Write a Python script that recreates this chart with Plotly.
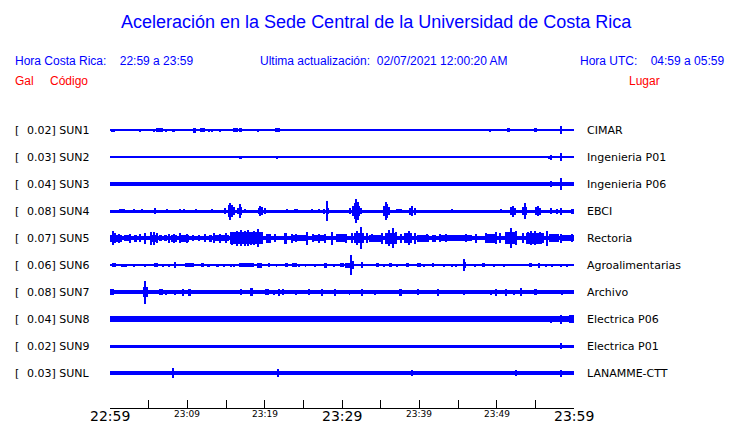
import plotly.graph_objects as go

# ---------------- data ----------------
title = "Aceleración en la Sede Central de la Universidad de Costa Rica"
codes = ["SUN1", "SUN2", "SUN3", "SUN4", "SUN5", "SUN6", "SUN7", "SUN8", "SUN9", "SUNL"]
gal = ["0.02", "0.03", "0.04", "0.08", "0.07", "0.06", "0.08", "0.04", "0.02", "0.03"]
places = ["CIMAR", "Ingenieria P01", "Ingenieria P06", "EBCI", "Rectoria",
          "Agroalimentarias", "Archivo", "Electrica P06", "Electrica P01", "LANAMME-CTT"]

# minutes after 22:59 for the time axis
tick_minutes = [0, 5, 10, 15, 20, 25, 30, 35, 40, 45, 50, 55, 60]
tick_labels = ["22:59", "", "23:09", "", "23:19", "", "23:29", "", "23:39", "", "23:49", "", "23:59"]
major_labels = ["22:59", "23:29", "23:59"]

# background noise half-amplitude of each trace (relative units)
noise = [0.5, 0.5, 1.7, 1.5, 2.2, 0.5, 1.8, 2.6, 1.5, 2.2]

# envelope events per station: (minute, half-amplitude, duration in minutes)
ev_sun1 = [(0.37, 1.5, 0.5), (3.94, 1.5, 0.13), (5.15, 1.3, 0.13), (5.67, 1.5, 0.26), (6.40, 1.7, 0.78),
           (7.18, 1.5, 0.26), (7.74, 1.3, 0.13), (8.21, 1.5, 0.26), (8.81, 1.3, 0.13), (9.98, 1.2, 0.13),
           (10.93, 2.5, 0.39), (11.92, 1.8, 0.65), (12.78, 1.5, 0.26), (13.13, 1.5, 0.13), (14.16, 1.5, 0.26),
           (15.19, 1.2, 0.13), (16.18, 1.8, 0.65), (16.92, 1.8, 0.39), (18.08, 1.0, 0.13), (18.43, 1.0, 0.13),
           (19.12, 1.5, 0.26), (19.94, 1.2, 0.13), (21.66, 1.8, 0.52), (22.39, 1.3, 0.13), (22.69, 1.3, 0.13),
           (23.13, 1.3, 0.13), (24.29, 1.3, 0.13), (24.85, 1.0, 0.13), (25.37, 1.0, 0.13), (27.00, 1.3, 0.13),
           (28.60, 1.3, 0.13), (29.07, 1.3, 0.13), (31.75, 1.3, 0.13), (32.05, 1.3, 0.13), (32.48, 1.3, 0.13),
           (33.04, 1.3, 0.13), (33.56, 1.3, 0.13), (34.16, 1.3, 0.13), (35.97, 1.3, 0.13), (38.13, 1.3, 0.13),
           (38.99, 1.3, 0.13), (39.29, 1.3, 0.13), (40.15, 1.3, 0.13), (40.58, 1.3, 0.13), (42.31, 1.3, 0.13),
           (44.03, 1.3, 0.13), (44.25, 1.3, 0.13), (44.76, 1.3, 0.13), (45.02, 1.3, 0.13), (45.67, 1.3, 0.13),
           (49.20, 1.5, 0.26), (49.63, 1.2, 0.13), (50.28, 1.3, 0.13), (50.84, 1.2, 0.13), (51.53, 1.8, 0.26),
           (54.08, 1.2, 0.13), (55.07, 1.8, 0.39), (55.88, 1.3, 0.13), (57.05, 1.3, 0.13), (57.69, 1.3, 0.13),
           (58.30, 4.0, 0.13), (59.25, 1.3, 0.13), (59.85, 1.3, 0.13)]
ev_sun2 = [(0.93, 1.0, 0.13), (2.95, 1.0, 0.13), (3.43, 1.0, 0.13), (6.75, 1.0, 0.13), (7.39, 1.3, 0.26),
           (8.90, 1.0, 0.13), (16.88, 1.5, 0.3), (17.61, 1.0, 0.13), (19.38, 1.0, 0.13), (20.84, 1.0, 0.13),
           (21.62, 1.5, 0.3), (22.18, 1.0, 0.13), (24.29, 1.0, 0.13), (30.32, 1.3, 0.13), (30.54, 1.3, 0.13),
           (31.23, 1.0, 0.13), (36.75, 1.0, 0.13), (36.96, 1.0, 0.13), (38.56, 1.3, 0.13), (38.99, 1.0, 0.13),
           (42.39, 1.0, 0.13), (49.63, 1.0, 0.13), (50.41, 1.0, 0.13), (51.71, 1.0, 0.13), (52.44, 1.0, 0.13),
           (54.72, 1.0, 0.13), (55.88, 1.0, 0.13), (56.40, 1.3, 0.13), (56.75, 1.5, 0.2), (57.05, 2.5, 0.13),
           (57.69, 1.0, 0.13), (58.30, 4.3, 0.13), (58.90, 1.0, 0.13)]
ev_sun3 = [(57.05, 3.2, 0.13), (57.69, 2.0, 0.13), (58.30, 6.0, 0.13)]
ev_sun4 = [(1.53, 2.2, 0.78), (3.08, 2.0, 0.13), (4.16, 2.0, 0.13), (5.80, 3.3, 0.13), (7.39, 2.3, 0.13),
           (8.99, 2.2, 0.13), (9.63, 2.2, 0.13), (11.06, 2.2, 0.13), (13.21, 2.0, 0.13), (14.93, 3.0, 0.26),
           (15.37, 6.0, 0.2), (15.58, 8.5, 0.13), (15.80, 6.0, 0.2), (16.06, 4.0, 0.2), (16.57, 3.0, 0.2),
           (16.79, 7.0, 0.13), (17.00, 4.0, 0.2), (17.52, 2.0, 0.13), (19.25, 3.0, 0.2), (19.46, 5.3, 0.13),
           (19.68, 4.0, 0.2), (20.11, 3.0, 0.2), (22.91, 2.0, 0.13), (24.07, 2.3, 0.5), (26.14, 2.0, 0.13),
           (27.00, 2.0, 0.13), (27.65, 2.5, 0.2), (28.08, 3.0, 0.4), (28.08, 10.0, 0.13), (31.10, 3.0, 0.2),
           (31.40, 5.0, 0.2), (31.66, 8.0, 0.2), (31.83, 12.0, 0.13), (32.05, 9.0, 0.2), (32.26, 5.0, 0.2),
           (32.52, 3.0, 0.2), (35.41, 5.0, 0.2), (35.63, 8.8, 0.13), (35.84, 7.0, 0.2), (36.06, 4.0, 0.2),
           (37.35, 2.0, 0.8), (38.86, 3.5, 0.2), (39.08, 5.0, 0.13), (39.42, 3.5, 0.26), (44.25, 2.3, 0.13),
           (50.50, 2.0, 0.13), (51.92, 4.0, 0.2), (52.09, 5.5, 0.13), (52.35, 3.5, 0.2), (53.43, 4.0, 0.2),
           (53.65, 8.0, 0.13), (53.86, 4.0, 0.2), (55.15, 4.0, 0.2), (55.37, 5.0, 0.13), (55.58, 3.5, 0.2),
           (57.05, 3.0, 0.13), (57.82, 2.5, 0.13), (58.30, 3.5, 0.13), (59.76, 2.5, 0.4)]
ev_sun5 = [(0.75, 3.5, 1.6), (0.37, 7.0, 0.13), (0.63, 5.0, 0.13), (2.22, 3.0, 0.86), (3.30, 3.5, 0.43),
           (4.50, 5.5, 0.13), (5.50, 3.5, 0.78), (5.24, 6.5, 0.13), (5.67, 6.5, 0.13), (6.53, 3.0, 0.43),
           (7.18, 3.0, 0.43), (8.26, 3.5, 0.86), (8.26, 4.5, 0.13), (9.64, 3.5, 1.08), (10.71, 3.0, 0.2),
           (11.49, 2.7, 0.13), (13.00, 3.5, 0.43), (14.50, 3.0, 1.72), (17.61, 6.0, 4.1), (16.45, 7.5, 0.13),
           (17.52, 7.5, 0.13), (18.60, 7.0, 0.13), (19.16, 9.0, 0.13), (20.45, 4.5, 0.65), (22.69, 5.5, 0.3),
           (24.42, 3.0, 1.72), (25.45, 6.5, 0.13), (27.00, 3.0, 1.72), (27.00, 4.5, 0.13), (28.73, 6.5, 0.13),
           (29.81, 4.0, 1.3), (32.18, 5.0, 1.3), (31.93, 7.0, 0.13), (32.52, 11.0, 0.13), (34.33, 3.5, 1.72),
           (36.27, 5.5, 1.3), (36.14, 8.0, 0.13), (36.58, 10.0, 0.13), (38.56, 5.0, 1.08), (38.65, 7.3, 0.13),
           (40.46, 3.5, 1.5), (41.88, 3.5, 0.43), (44.68, 3.0, 4.3), (49.29, 4.5, 1.5), (49.85, 6.0, 0.13),
           (51.79, 6.0, 1.3), (51.79, 10.0, 0.13), (54.81, 5.5, 2.15), (54.38, 7.0, 0.13), (55.02, 7.0, 0.13),
           (56.53, 7.5, 0.13), (57.39, 4.0, 1.3), (59.16, 3.0, 1.8),
           (1.20, 4.5, 0.13), (2.60, 4.5, 0.13), (3.90, 4.0, 0.13), (6.10, 5.0, 0.13), (7.60, 4.5, 0.13),
           (9.10, 5.0, 0.13), (9.90, 4.5, 0.13), (12.30, 4.0, 0.13), (13.50, 5.0, 0.13), (14.20, 4.5, 0.13),
           (15.00, 5.0, 0.13), (15.80, 6.5, 0.13), (16.90, 8.0, 0.13), (17.90, 8.0, 0.13), (18.20, 6.5, 0.13),
           (19.60, 6.0, 0.13), (21.30, 4.0, 0.13), (23.50, 4.5, 0.13), (24.00, 4.0, 0.13), (26.30, 4.0, 0.13),
           (27.80, 4.5, 0.13), (30.50, 4.5, 0.13), (31.30, 5.0, 0.13), (33.20, 5.0, 0.13), (33.90, 4.0, 0.13),
           (35.20, 5.5, 0.13), (37.00, 6.0, 0.13), (37.60, 4.5, 0.13), (39.40, 5.5, 0.13), (41.00, 4.0, 0.13),
           (42.70, 4.0, 0.13), (43.40, 4.0, 0.13), (46.00, 4.0, 0.13), (47.30, 4.5, 0.13), (48.60, 5.0, 0.13),
           (50.40, 5.0, 0.13), (52.50, 7.0, 0.13), (53.40, 5.0, 0.13), (54.00, 6.0, 0.13), (55.60, 6.0, 0.13),
           (56.00, 5.0, 0.13), (58.30, 4.5, 0.13), (59.70, 4.0, 0.13)]
ev_sun6 = [(0.50, 1.7, 0.45), (1.79, 1.5, 0.86), (3.08, 1.5, 0.2), (3.73, 1.3, 0.13), (4.50, 1.5, 0.13),
           (5.93, 2.2, 0.56), (6.83, 1.5, 0.13), (7.61, 1.5, 0.13), (8.38, 2.8, 0.2), (8.99, 1.3, 0.13),
           (10.28, 2.0, 1.08), (11.92, 1.7, 0.43), (12.78, 1.5, 0.43), (13.86, 1.5, 0.43), (14.72, 1.5, 0.13),
           (15.15, 1.3, 0.13), (15.71, 1.5, 0.13), (16.01, 1.5, 0.13), (17.61, 1.8, 1.94), (19.33, 2.5, 0.65),
           (20.62, 2.0, 0.2), (21.53, 1.5, 0.13), (22.82, 1.7, 0.43), (23.86, 1.7, 0.65), (24.42, 1.5, 0.13),
           (25.28, 1.5, 0.13), (26.49, 1.5, 0.13), (27.87, 2.5, 0.43), (28.95, 1.5, 0.13), (30.02, 1.7, 0.43),
           (30.75, 2.5, 0.65), (31.19, 9.7, 0.13), (31.45, 4.0, 0.2), (32.61, 3.0, 0.3), (34.55, 1.7, 0.43),
           (35.41, 1.5, 0.13), (36.27, 2.0, 0.43), (37.13, 1.5, 0.13), (38.43, 2.0, 0.43), (39.94, 1.7, 0.43),
           (40.58, 1.5, 0.13), (41.79, 2.0, 0.25), (43.17, 1.5, 0.13), (44.25, 1.5, 0.13), (44.76, 1.5, 0.13),
           (45.75, 6.0, 0.13), (45.97, 3.0, 0.2), (47.26, 1.5, 0.13), (48.34, 2.0, 0.43), (49.63, 1.5, 0.13),
           (51.01, 1.5, 0.13), (54.38, 2.0, 0.43), (55.45, 2.5, 0.3), (56.32, 1.5, 0.13), (57.18, 1.5, 0.13),
           (58.26, 1.5, 0.13), (59.12, 1.5, 0.13)]
ev_sun7 = [(0.20, 3.0, 0.56), (4.59, 5.0, 0.65), (4.50, 11.5, 0.13), (6.57, 3.0, 0.5), (7.18, 2.5, 0.13),
           (8.38, 2.5, 0.13), (9.42, 3.5, 0.13), (10.28, 3.5, 0.3), (11.27, 2.2, 0.13), (16.88, 3.0, 0.13),
           (18.30, 4.0, 0.3), (20.32, 3.0, 0.43), (21.19, 2.5, 0.13), (21.83, 3.5, 0.13), (22.35, 3.0, 0.13),
           (24.07, 2.5, 0.13), (25.71, 3.0, 0.13), (27.35, 3.5, 0.13), (29.07, 3.5, 0.2), (30.97, 2.5, 0.13),
           (32.61, 3.5, 0.2), (34.25, 2.5, 0.13), (35.41, 2.2, 0.13), (37.57, 3.5, 0.25), (39.81, 3.0, 0.13),
           (42.39, 3.5, 0.13), (45.75, 2.5, 0.3), (49.29, 2.5, 0.13), (49.94, 3.5, 0.13), (51.23, 3.5, 0.13),
           (52.22, 2.5, 0.13), (53.21, 4.0, 0.2), (55.02, 3.0, 0.3), (58.39, 2.5, 0.13)]
ev_sun8 = [(7.18, 3.0, 0.86), (57.05, 3.5, 0.13), (58.30, 4.5, 0.13), (59.68, 3.8, 0.7)]
ev_sun9 = [(58.30, 3.2, 0.13)]
ev_sunl = [(8.12, 5.3, 0.13), (21.70, 3.7, 0.13), (39.08, 3.0, 0.13), (52.44, 2.8, 0.13), (58.30, 3.5, 0.13)]

events = [ev_sun1, ev_sun2, ev_sun3, ev_sun4, ev_sun5, ev_sun6, ev_sun7, ev_sun8, ev_sun9, ev_sunl]

# ---------------- figure ----------------
BLUE = "#0000FF"
AMP = 1.0 / 27.0  # relative amplitude -> row units
SPAN = 60
PW, PH = 464, 305  # plot area size in px

fig = go.Figure()
for i, code in enumerate(codes):
    xs = [SPAN / 2]
    ws = [SPAN]
    bs = [i - noise[i] * AMP]
    hs = [2 * noise[i] * AMP]
    for (m, h, d) in events[i]:
        xs.append(m)
        ws.append(d)
        bs.append(i - h * AMP)
        hs.append(2 * h * AMP)
    fig.add_trace(go.Bar(x=xs, y=hs, base=bs, width=ws, orientation="v",
                         marker=dict(color=BLUE, line=dict(width=0)),
                         showlegend=False, hoverinfo="skip", name=code))

fig.update_layout(
    width=740, height=423,
    margin=dict(l=110, r=166, t=103, b=15),
    paper_bgcolor="white", plot_bgcolor="white",
    barmode="overlay", bargap=0,
    xaxis=dict(range=[0, SPAN], showgrid=False, zeroline=False, showline=True,
               linecolor="black", linewidth=1, ticks="inside", ticklen=8,
               tickcolor="black", tickvals=tick_minutes, showticklabels=False),
    yaxis=dict(range=[10.296, -1.0], showgrid=False, zeroline=False,
               showline=False, showticklabels=False, ticks=""),
)


def px(xpix):
    return (xpix - 110) / PW


def py(ypix):
    return (408 - ypix) / PH


ann = []
FONT_ROW = dict(family="DejaVu Sans", size=11, color="black")
for i, code in enumerate(codes):
    ann.append(dict(x=px(13), xref="paper", y=i, yref="y", text="[", showarrow=False,
                    xanchor="left", yanchor="middle", font=FONT_ROW))
    ann.append(dict(x=px(25), xref="paper", y=i, yref="y", text=f"{gal[i]}] {code}",
                    showarrow=False, xanchor="left", yanchor="middle", font=FONT_ROW))
    ann.append(dict(x=px(585), xref="paper", y=i, yref="y", text=places[i],
                    showarrow=False, xanchor="left", yanchor="middle", font=FONT_ROW))

for m, lab in zip(tick_minutes, tick_labels):
    if not lab:
        continue
    big = lab in major_labels
    ann.append(dict(x=m, xref="x", y=py(416 if big else 414), yref="paper", text=lab,
                    showarrow=False, xanchor="center", yanchor="middle",
                    font=dict(family="DejaVu Sans", size=14 if big else 9, color="black")))

FONT_HDR = dict(family="Liberation Sans", size=12, color=BLUE)
FONT_RED = dict(family="Liberation Sans", size=12, color="red")

ann += [
    dict(x=px(376), xref="paper", y=py(22), yref="paper", text=title, showarrow=False,
         xanchor="center", yanchor="middle", font=dict(family="Liberation Sans", size=18, color=BLUE)),
    dict(x=px(13), xref="paper", y=py(61), yref="paper",
         text="Hora Costa Rica:&nbsp;&nbsp;&nbsp;&nbsp;22:59 a 23:59",
         showarrow=False, xanchor="left", yanchor="middle", font=FONT_HDR),
    dict(x=px(258), xref="paper", y=py(61), yref="paper",
         text="Ultima actualización:&nbsp;&nbsp;02/07/2021 12:00:20 AM",
         showarrow=False, xanchor="left", yanchor="middle", font=FONT_HDR),
    dict(x=px(726), xref="paper", y=py(61), yref="paper",
         text="Hora UTC:&nbsp;&nbsp;&nbsp;&nbsp;04:59 a 05:59",
         showarrow=False, xanchor="right", yanchor="middle", font=FONT_HDR),
    dict(x=px(13), xref="paper", y=py(81), yref="paper", text="Gal",
         showarrow=False, xanchor="left", yanchor="middle", font=FONT_RED),
    dict(x=px(48), xref="paper", y=py(81), yref="paper", text="Código",
         showarrow=False, xanchor="left", yanchor="middle", font=FONT_RED),
    dict(x=px(627), xref="paper", y=py(81), yref="paper", text="Lugar",
         showarrow=False, xanchor="left", yanchor="middle", font=FONT_RED),
]
fig.update_layout(annotations=ann)

fig.write_html("out.html", config={"displayModeBar": False},
               post_script="document.body.style.margin='0px';")
